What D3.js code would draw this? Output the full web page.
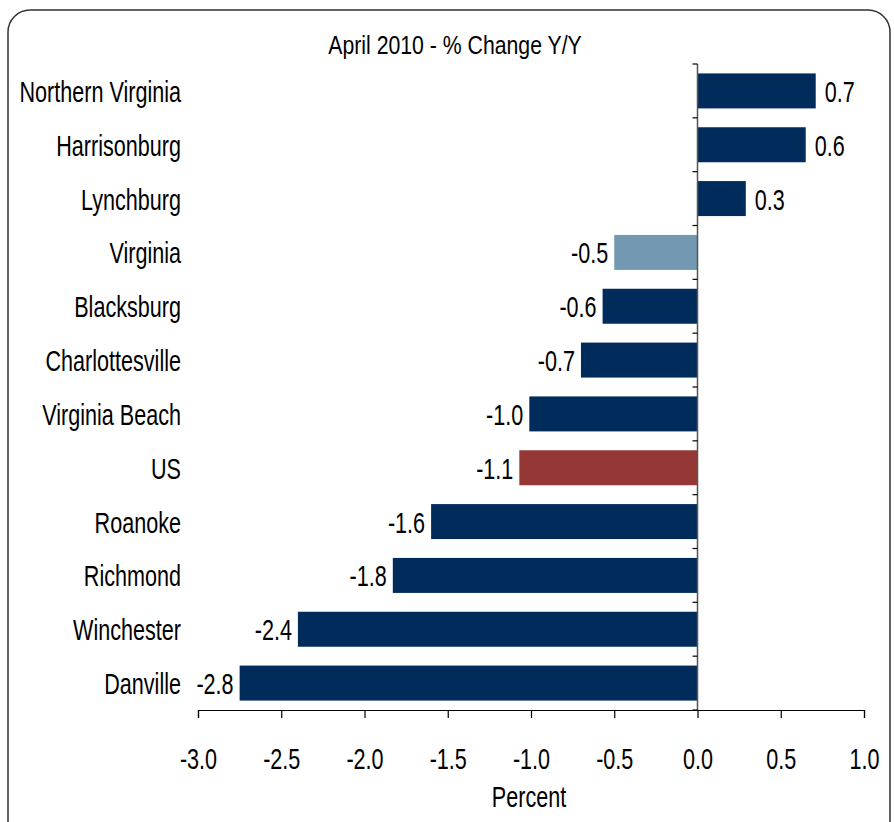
<!DOCTYPE html>
<html>
<head>
<meta charset="utf-8">
<script src="https://cdn.jsdelivr.net/npm/d3@7"></script>
<style>
  body { margin: 0; background: #fff; }
  text { font-family: "Liberation Sans", Arial, sans-serif; fill: #000; }
</style>
</head>
<body>
<svg id="chart" width="894" height="822"></svg>
<script>
// ---------- data ----------
const regions = [
  "Northern Virginia", "Harrisonburg", "Lynchburg", "Virginia", "Blacksburg",
  "Charlottesville", "Virginia Beach", "US", "Roanoke", "Richmond",
  "Winchester", "Danville"
];
const changes = [0.71, 0.65, 0.29, -0.50, -0.57, -0.70, -1.01, -1.07, -1.60, -1.83, -2.40, -2.75];
const valueLabels = ["0.7", "0.6", "0.3", "-0.5", "-0.6", "-0.7", "-1.0", "-1.1", "-1.6", "-1.8", "-2.4", "-2.8"];
const xTicks = [-3.0, -2.5, -2.0, -1.5, -1.0, -0.5, 0.0, 0.5, 1.0];

const title = "April 2010 - % Change Y/Y";
const xTitle = "Percent";

// colours
const navy = "#012b5b";
const colorFor = (name) =>
  name === "Virginia" ? "#7399b2" : name === "US" ? "#953735" : navy;

// text in the original is a tall, narrow sans: squeeze it horizontally
const squeeze = 0.72;
const fontSize = 30;

// ---------- layout ----------
const svg = d3.select("#chart");
const plot = { left: 198, right: 864, top: 64, bottom: 710 };

// frame
svg.append("rect")
  .attr("x", 8).attr("y", 10)
  .attr("width", 882).attr("height", 840)
  .attr("rx", 22).attr("ry", 22)
  .attr("fill", "none")
  .attr("stroke", "#333")
  .attr("stroke-width", 1.5);

const x = d3.scaleLinear().domain([-3, 1]).range([plot.left, plot.right]);
const y = d3.scaleBand()
  .domain(regions)
  .range([plot.top, plot.bottom])
  .paddingInner(0.35)
  .paddingOuter(0.175);

const rows = regions.map((r, i) => ({ name: r, value: changes[i], label: valueLabels[i] }));

// bars
svg.append("g")
  .selectAll("rect")
  .data(rows)
  .join("rect")
  .attr("x", (d) => x(Math.min(0, d.value)))
  .attr("y", (d) => y(d.name))
  .attr("width", (d) => Math.abs(x(d.value) - x(0)))
  .attr("height", y.bandwidth())
  .attr("fill", (d) => colorFor(d.name));

const midY = (d) => y(d.name) + y.bandwidth() / 2 + 11;

// value labels
svg.append("g")
  .selectAll("text")
  .data(rows)
  .join("text")
  .attr("transform", (d) => {
    const tx = d.value >= 0 ? x(d.value) + 9 : x(d.value) - 6;
    return `translate(${tx},${midY(d)}) scale(${squeeze},1)`;
  })
  .attr("text-anchor", (d) => (d.value >= 0 ? "start" : "end"))
  .attr("font-size", fontSize)
  .text((d) => d.label);

// category labels
svg.append("g")
  .selectAll("text")
  .data(rows)
  .join("text")
  .attr("transform", (d) => `translate(181,${midY(d)}) scale(${squeeze},1)`)
  .attr("text-anchor", "end")
  .attr("font-size", fontSize)
  .text((d) => d.name);

// x axis
const xAxis = svg.append("g")
  .attr("transform", `translate(0,${plot.bottom})`)
  .call(d3.axisBottom(x).tickValues(xTicks).tickSize(8));
xAxis.select(".domain").attr("stroke", "#000").attr("stroke-width", 1.2);
xAxis.selectAll(".tick line").attr("stroke", "#000").attr("stroke-width", 1.2);
xAxis.attr("font-family", null).attr("font-size", null);
xAxis.selectAll(".tick text")
  .attr("y", null)
  .attr("dy", null)
  .attr("transform", `translate(0,59) scale(${squeeze},1)`)
  .attr("font-size", fontSize)
  .attr("fill", "#000")
  .text((d) => d3.format(".1f")(d).replace("−", "-"));

// vertical zero axis with category separators
const sep = regions.map((r) => y(r) - (y.step() * y.paddingInner()) / 2);
sep.push(plot.bottom);
const zeroAxis = svg.append("g");
zeroAxis.append("line")
  .attr("x1", x(0)).attr("x2", x(0))
  .attr("y1", plot.top).attr("y2", plot.bottom)
  .attr("stroke", "#555").attr("stroke-width", 1.5);
zeroAxis.selectAll(".sep")
  .data(sep)
  .join("line")
  .attr("x1", x(0) - 5).attr("x2", x(0))
  .attr("y1", (d) => d).attr("y2", (d) => d)
  .attr("stroke", "#000").attr("stroke-width", 1.2);

// titles
svg.append("text")
  .attr("transform", "translate(455,54) scale(0.85,1)")
  .attr("text-anchor", "middle")
  .attr("font-size", 25)
  .text(title);

svg.append("text")
  .attr("transform", `translate(529,807) scale(${squeeze},1)`)
  .attr("text-anchor", "middle")
  .attr("font-size", fontSize)
  .text(xTitle);
</script>
</body>
</html>
